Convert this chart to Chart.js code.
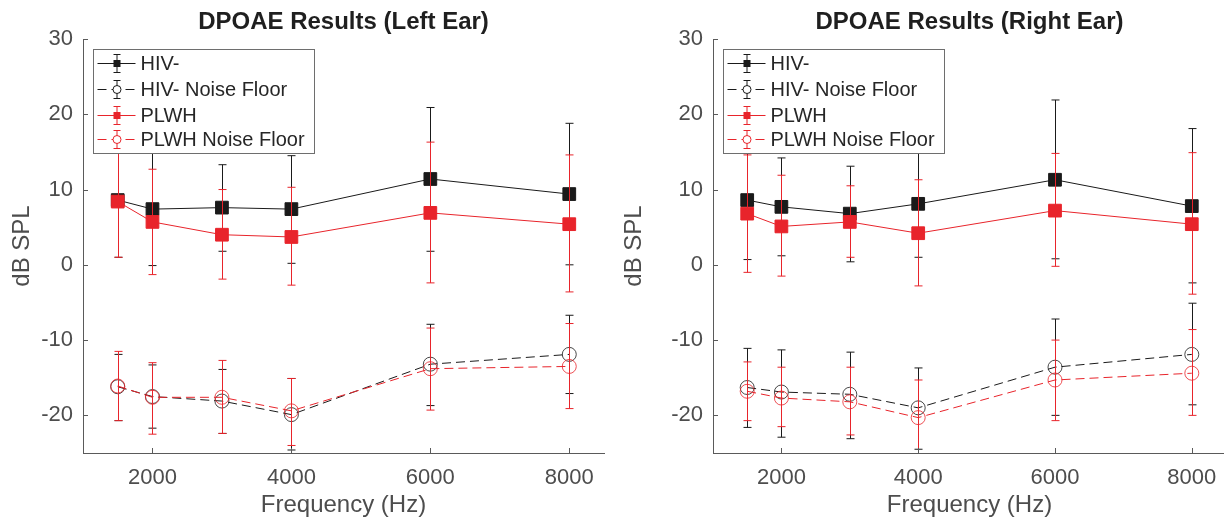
<!DOCTYPE html>
<html>
<head>
<meta charset="utf-8">
<title>DPOAE Results</title>
<script src="https://cdn.jsdelivr.net/npm/chart.js@4.4.1/dist/chart.umd.min.js"></script>
<style>
  html, body { margin: 0; padding: 0; background: #fff; }
  body { width: 1224px; height: 521px; overflow: hidden; position: relative; }
  canvas { position: absolute; top: 0; }
  #leftChart { left: 0; }
  #rightChart { left: 612px; }
</style>
</head>
<body>
<canvas id="rightChart" width="650" height="521"></canvas>
<canvas id="leftChart" width="630" height="521"></canvas>
<script>
// frequencies (Hz) and axis ticks
const freqs = [1500, 2000, 3000, 4000, 6000, 8000];
const xTicks = [2000, 4000, 6000, 8000];
const yTicks = [-20, -10, 0, 10, 20, 30];

// left ear: means and error bar ends (dB SPL)
const leftHiv = [8.6, 7.4, 7.6, 7.4, 11.4, 9.4];
const leftHivLo = [1.0, -0.1, 1.8, 0.2, 1.8, 0.0];
const leftHivHi = [16.2, 14.8, 13.3, 14.5, 20.9, 18.8];
const leftHivNf = [-16.2, -17.5, -18.1, -19.9, -13.2, -11.9];
const leftHivNfLo = [-20.7, -21.7, -22.4, -24.6, -18.7, -17.1];
const leftHivNfHi = [-11.9, -13.3, -13.9, -15.1, -7.9, -6.7];
const leftPlwh = [8.4, 5.7, 4.0, 3.7, 6.9, 5.4];
const leftPlwhLo = [1.0, -1.3, -1.9, -2.7, -2.4, -3.6];
const leftPlwhHi = [15.8, 12.7, 10.0, 10.3, 16.3, 14.6];
const leftPlwhNf = [-16.1, -17.6, -17.6, -19.4, -13.8, -13.5];
const leftPlwhNfLo = [-20.7, -22.5, -22.4, -24.0, -19.3, -19.1];
const leftPlwhNfHi = [-11.5, -13.0, -12.7, -15.1, -8.4, -7.8];

// right ear
const rightHiv = [8.6, 7.7, 6.8, 8.1, 11.3, 7.8];
const rightHivLo = [0.7, 1.2, 0.4, 1.0, 0.8, -2.4];
const rightHivHi = [16.5, 14.2, 13.1, 15.2, 21.9, 18.1];
const rightHivNf = [-16.3, -16.9, -17.2, -19.0, -13.6, -11.9];
const rightHivNfLo = [-21.6, -22.9, -23.1, -24.5, -20.0, -18.6];
const rightHivNfHi = [-11.1, -11.3, -11.6, -13.7, -7.2, -5.1];
const rightPlwh = [6.8, 5.1, 5.7, 4.2, 7.2, 5.4];
const rightPlwhLo = [-1.0, -1.5, 1.0, -2.8, -0.2, -3.9];
const rightPlwhHi = [14.6, 11.9, 10.5, 11.3, 14.8, 14.9];
const rightPlwhNf = [-16.8, -17.7, -18.2, -20.3, -15.3, -14.4];
const rightPlwhNfLo = [-20.7, -21.5, -22.6, -25.3, -20.7, -20.0];
const rightPlwhNfHi = [-12.9, -13.6, -13.6, -15.3, -10.0, -8.6];

const seriesNames = ['HIV-', 'HIV- Noise Floor', 'PLWH', 'PLWH Noise Floor'];

const BLACK = '#1a1a1a';
const RED = '#e8242b';
const AXIS = '#5a5a5a';
const TEXT = '#4d4d4d';
const FONT = "'Liberation Sans', Arial, sans-serif";

// error bars drawn under each dataset's markers
const errorBars = {
    id: 'errorBars',
    beforeDatasetDraw(chart, args) {
        const ds = chart.data.datasets[args.index];
        if (!ds.errLo) return;
        const { ctx, chartArea, scales: { x, y } } = chart;
        ctx.save();
        ctx.beginPath();
        ctx.rect(chartArea.left, chartArea.top, chartArea.width, chartArea.height);
        ctx.clip();
        ctx.strokeStyle = ds.borderColor;
        ctx.lineWidth = 1;
        ds.data.forEach((p, i) => {
            const px = Math.round(x.getPixelForValue(p.x)) + 0.5;
            const lo = y.getPixelForValue(ds.errLo[i]);
            const hi = y.getPixelForValue(ds.errHi[i]);
            ctx.beginPath();
            ctx.moveTo(px, lo); ctx.lineTo(px, hi);
            ctx.moveTo(px - 4, lo); ctx.lineTo(px + 4, lo);
            ctx.moveTo(px - 4, hi); ctx.lineTo(px + 4, hi);
            ctx.stroke();
        });
        ctx.restore();
    }
};

// inward tick marks like the original
const innerTicks = {
    id: 'innerTicks',
    afterDatasetsDraw(chart) {
        const { ctx, chartArea, scales: { x, y } } = chart;
        ctx.save();
        ctx.strokeStyle = AXIS;
        ctx.lineWidth = 1;
        ctx.beginPath();
        xTicks.forEach(v => {
            const px = Math.round(x.getPixelForValue(v)) + 0.5;
            ctx.moveTo(px, chartArea.bottom);
            ctx.lineTo(px, chartArea.bottom - 5);
        });
        yTicks.forEach(v => {
            const py = Math.round(y.getPixelForValue(v)) + 0.5;
            ctx.moveTo(chartArea.left, py);
            ctx.lineTo(chartArea.left + 5, py);
        });
        ctx.stroke();
        ctx.restore();
    }
};

// title centred over the plot area, not the canvas
const plotTitle = {
    id: 'plotTitle',
    afterDraw(chart, args, opts) {
        const { ctx, chartArea } = chart;
        ctx.save();
        ctx.fillStyle = '#1f1f1f';
        ctx.font = 'bold 24px ' + FONT;
        ctx.textAlign = 'center';
        ctx.textBaseline = 'middle';
        ctx.fillText(opts.text, (chartArea.left + chartArea.right) / 2, 22);
        ctx.restore();
    }
};

// boxed legend with error-bar icons
const boxLegend = {
    id: 'boxLegend',
    afterDraw(chart) {
        const { ctx, chartArea } = chart;
        const bx = Math.round(chartArea.left) + 10.5;
        const by = Math.round(chartArea.top) + 10.5;
        const bw = 221, bh = 104;
        ctx.save();
        ctx.fillStyle = '#fff';
        ctx.strokeStyle = '#6e6e6e';
        ctx.lineWidth = 1;
        ctx.fillRect(bx, by, bw, bh);
        ctx.strokeRect(bx, by, bw, bh);
        const rows = [14, 40, 66, 90];
        const legendDs = chart.data.datasets.slice().sort((a, b) => b.order - a.order);
        legendDs.forEach((ds, i) => {
            const cy = by + rows[i];
            const mx = bx + 23.5;
            ctx.strokeStyle = ds.borderColor;
            ctx.lineWidth = 1;
            ctx.setLineDash(ds.borderDash || []);
            ctx.beginPath();
            ctx.moveTo(bx + 4, cy); ctx.lineTo(bx + 42, cy);
            ctx.stroke();
            ctx.setLineDash([]);
            ctx.beginPath();
            ctx.moveTo(mx, cy - 9); ctx.lineTo(mx, cy + 9);
            ctx.moveTo(mx - 3.5, cy - 9); ctx.lineTo(mx + 3.5, cy - 9);
            ctx.moveTo(mx - 3.5, cy + 9); ctx.lineTo(mx + 3.5, cy + 9);
            ctx.stroke();
            if (ds.pointStyle === 'rect') {
                ctx.fillStyle = ds.borderColor;
                ctx.fillRect(mx - 3.5, cy - 3.5, 7, 7);
            } else {
                ctx.fillStyle = '#fff';
                ctx.beginPath();
                ctx.arc(mx, cy, 4, 0, Math.PI * 2);
                ctx.fill();
                ctx.stroke();
            }
            ctx.fillStyle = '#262626';
            ctx.font = '20px ' + FONT;
            ctx.textBaseline = 'middle';
            ctx.textAlign = 'left';
            ctx.fillText(ds.label, bx + 47, cy + 1);
        });
        ctx.restore();
    }
};

function points(values) {
    return freqs.map((f, i) => ({ x: f, y: values[i] }));
}

function makeSeries(label, values, lo, hi, color, noise, order) {
    return {
        label: label,
        data: points(values),
        errLo: lo,
        errHi: hi,
        order: order,
        borderColor: color,
        backgroundColor: noise ? 'rgba(0,0,0,0)' : color,
        borderWidth: 1,
        borderDash: noise ? [9, 5] : [],
        pointStyle: noise ? 'circle' : 'rect',
        pointRadius: noise ? 7 : 9,
        pointBorderWidth: noise ? 0.8 : 1,
        pointBackgroundColor: noise ? 'rgba(0,0,0,0)' : color,
        pointBorderColor: color,
        showLine: true,
        tension: 0,
        fill: false
    };
}

function drawChart(canvasId, title, datasets, axisWidth, rightPad) {
    const ctx = document.getElementById(canvasId).getContext('2d');
    new Chart(ctx, {
        type: 'line',
        data: { datasets: datasets },
        plugins: [errorBars, innerTicks, plotTitle, boxLegend],
        options: {
            responsive: false,
            animation: false,
            layout: { padding: { left: 0, right: rightPad, top: 39, bottom: 0 } },
            plugins: {
                legend: { display: false },
                tooltip: { enabled: false },
                title: { display: false },
                plotTitle: { text: title }
            },
            scales: {
                x: {
                    type: 'linear',
                    min: 1000,
                    max: 8500,
                    afterBuildTicks: s => { s.ticks = xTicks.map(v => ({ value: v })); },
                    afterFit: s => { s.height = 68; },
                    grid: { display: false, drawTicks: false },
                    border: { display: true, color: AXIS, width: 1 },
                    ticks: {
                        color: TEXT,
                        font: { family: FONT, size: 22 },
                        padding: 12,
                        maxRotation: 0,
                        callback: v => String(v)
                    },
                    title: {
                        display: true,
                        text: 'Frequency (Hz)',
                        color: TEXT,
                        font: { family: FONT, size: 24, lineHeight: 1.2 },
                        padding: { top: 0, bottom: 1 }
                    }
                },
                y: {
                    type: 'linear',
                    min: -25,
                    max: 30,
                    afterBuildTicks: s => { s.ticks = yTicks.map(v => ({ value: v })); },
                    afterFit: s => { s.width = axisWidth; },
                    grid: { display: false, drawTicks: false },
                    border: { display: true, color: AXIS, width: 1 },
                    ticks: {
                        color: TEXT,
                        font: { family: FONT, size: 22 },
                        padding: 10,
                        callback: v => String(v)
                    },
                    title: {
                        display: true,
                        text: 'dB SPL',
                        color: TEXT,
                        font: { family: FONT, size: 24, lineHeight: 1.2 },
                        padding: { top: 8, bottom: 0 }
                    }
                }
            }
        }
    });
}

drawChart('leftChart', 'DPOAE Results (Left Ear)', [
    makeSeries(seriesNames[0], leftHiv, leftHivLo, leftHivHi, BLACK, false, 4),
    makeSeries(seriesNames[1], leftHivNf, leftHivNfLo, leftHivNfHi, BLACK, true, 3),
    makeSeries(seriesNames[2], leftPlwh, leftPlwhLo, leftPlwhHi, RED, false, 2),
    makeSeries(seriesNames[3], leftPlwhNf, leftPlwhNfLo, leftPlwhNfHi, RED, true, 1)
], 83, 26);

drawChart('rightChart', 'DPOAE Results (Right Ear)', [
    makeSeries(seriesNames[0], rightHiv, rightHivLo, rightHivHi, BLACK, false, 4),
    makeSeries(seriesNames[1], rightHivNf, rightHivNfLo, rightHivNfHi, BLACK, true, 3),
    makeSeries(seriesNames[2], rightPlwh, rightPlwhLo, rightPlwhHi, RED, false, 2),
    makeSeries(seriesNames[3], rightPlwhNf, rightPlwhNfLo, rightPlwhNfHi, RED, true, 1)
], 101, 36);
</script>
</body>
</html>
